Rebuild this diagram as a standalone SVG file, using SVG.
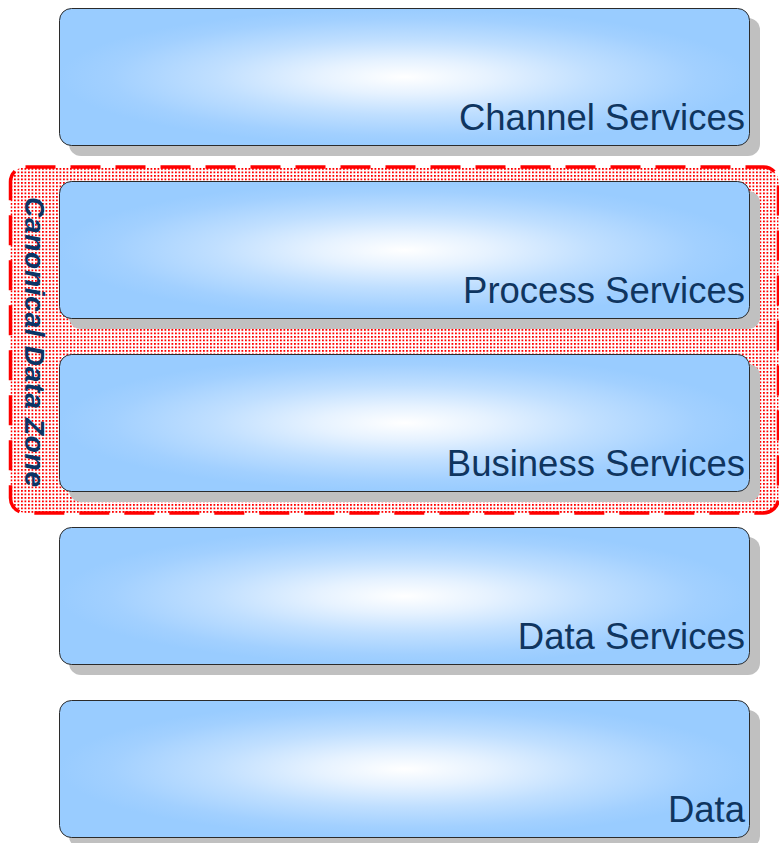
<svg xmlns="http://www.w3.org/2000/svg" width="779" height="843" viewBox="0 0 779 843">
  <defs>
    <radialGradient id="layerFill" cx="50%" cy="50%" r="50%" fx="50%" fy="50%">
      <stop offset="0" stop-color="#ffffff"/>
      <stop offset="0.25" stop-color="#e6f2ff"/>
      <stop offset="0.55" stop-color="#c0dfff"/>
      <stop offset="0.85" stop-color="#a2d0ff"/>
      <stop offset="1" stop-color="#99ccff"/>
    </radialGradient>
    <pattern id="redDots" patternUnits="userSpaceOnUse" width="3.5" height="3.5">
      <rect x="0" y="0" width="1.8" height="1.8" fill="#ff0000"/>
    </pattern>
  </defs>
  <style>
    .shadow { fill: #c0c0c0; }
    .layer { fill: url(#layerFill); stroke: #2b2b2b; stroke-width: 1; }
    .label { font-family: "Liberation Sans", Arial, sans-serif; font-size: 36.5px; fill: #0f355f; text-anchor: end; }
    .zone { fill: url(#redDots); stroke: #ff0000; stroke-width: 3.5; stroke-dasharray: 30 15; }
    .zoneLabel { font-family: "Liberation Sans", Arial, sans-serif; font-size: 28px; font-weight: bold; font-style: italic; fill: #0b3566; }
  </style>

  <rect width="779" height="843" fill="#ffffff"/>

  <!-- canonical data zone backdrop -->
  <g id="canonical-data-zone">
    <rect class="zone" x="10.5" y="167" width="768" height="346" rx="15" ry="15"/>
    <text class="zoneLabel" x="25" y="197" transform="rotate(90 25 197)" textLength="290" lengthAdjust="spacing">Canonical Data Zone</text>
  </g>

  <!-- service layers, top to bottom -->
  <g id="channel-services">
    <rect class="shadow" x="69" y="18" width="691" height="138" rx="12" ry="12"/>
    <rect class="layer" x="59.5" y="8.5" width="690" height="137" rx="12" ry="12"/>
    <text class="label" x="745" y="130">Channel Services</text>
  </g>

  <g id="process-services">
    <rect class="shadow" x="69" y="191" width="691" height="138" rx="12" ry="12"/>
    <rect class="layer" x="59.5" y="181.5" width="690" height="137" rx="12" ry="12"/>
    <text class="label" x="745" y="303">Process Services</text>
  </g>

  <g id="business-services">
    <rect class="shadow" x="69" y="364" width="691" height="138" rx="12" ry="12"/>
    <rect class="layer" x="59.5" y="354.5" width="690" height="137" rx="12" ry="12"/>
    <text class="label" x="745" y="476">Business Services</text>
  </g>

  <g id="data-services">
    <rect class="shadow" x="69" y="537" width="691" height="138" rx="12" ry="12"/>
    <rect class="layer" x="59.5" y="527.5" width="690" height="137" rx="12" ry="12"/>
    <text class="label" x="745" y="649">Data Services</text>
  </g>

  <g id="data">
    <rect class="shadow" x="69" y="710" width="691" height="138" rx="12" ry="12"/>
    <rect class="layer" x="59.5" y="700.5" width="690" height="137" rx="12" ry="12"/>
    <text class="label" x="745" y="822">Data</text>
  </g>

  <!-- no connectors in this layer stack -->
  <g id="connectors"/>
</svg>
